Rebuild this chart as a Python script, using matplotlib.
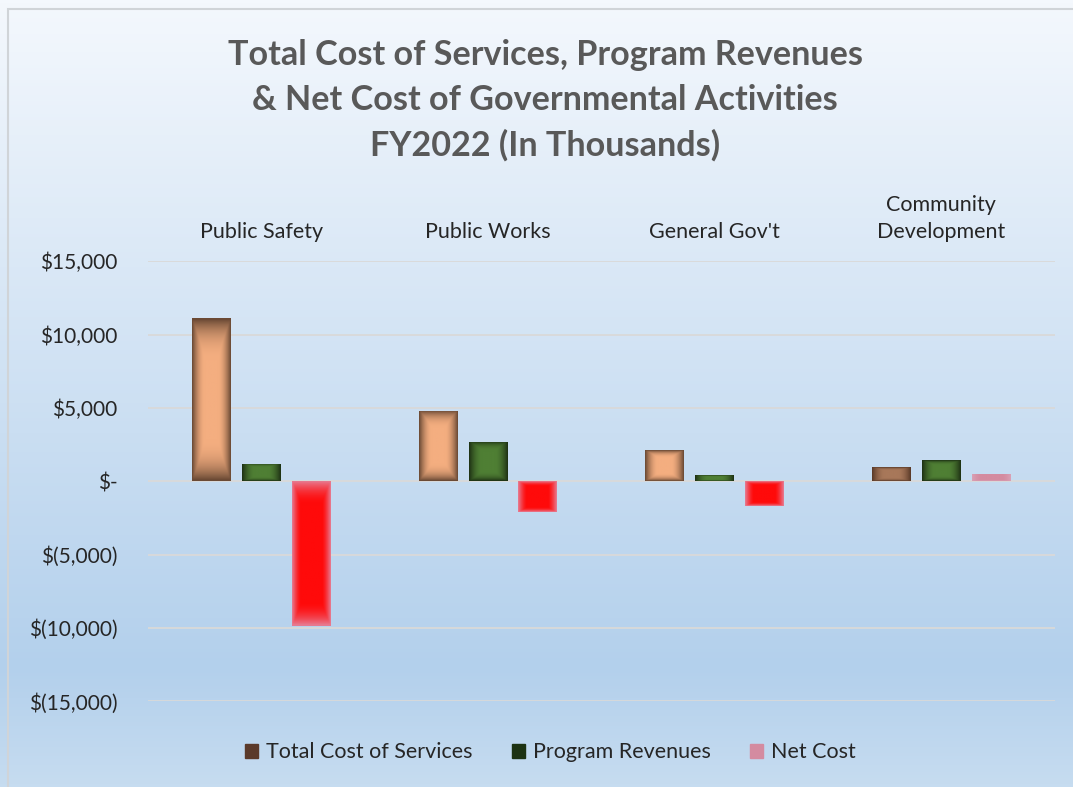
import numpy as np
import matplotlib.pyplot as plt
from matplotlib.colors import LinearSegmentedColormap, to_rgb
from matplotlib.patches import Rectangle

# FY2022 governmental activities, in thousands
categories = ["Public Safety", "Public Works", "General Gov't", "Community\nDevelopment"]
total_cost = [11100, 4800, 2100, 950]
program_rev = [1200, 2700, 400, 1430]
net_cost = [-9900, -2100, -1700, 480]

series_names = ["Total Cost of Services", "Program Revenues", "Net Cost"]
yticks = [-15000, -10000, -5000, 0, 5000, 10000, 15000]

# colours (centre colour, edge colour) per bar
cost_cols = [("#F4AE80", "#6B4A35")] * 3 + [("#A8785A", "#5A3A28")]
rev_cols = [("#4F7F34", "#1E3214")] * 4
net_cols = [("#FF0A0A", "#E77A90")] * 3 + [("#D48BA0", "#D9A0B5")]
legend_cols = ["#5B3A2A", "#1C3212", "#D48BA0"]

plt.rcParams['font.family'] = ['Lato', 'DejaVu Sans']

fig = plt.figure(figsize=(10.73, 7.87), dpi=100)

# background gradient
bg = fig.add_axes([0, 0, 1, 1], zorder=-10)
bg_cmap = LinearSegmentedColormap.from_list(
    "bg", [(0, "#F4F8FD"), (0.85, "#B3D0EC"), (1.0, "#C6DCF0")])
bg.imshow(np.linspace(0, 1, 256).reshape(-1, 1), aspect="auto", cmap=bg_cmap,
          extent=[0, 1, 0, 1], origin="upper")
bg.axis("off")
fig.patches.append(Rectangle((0.007, -0.01), 1.1, 0.999, transform=fig.transFigure,
                             fill=False, edgecolor="#D0D4D8", linewidth=1.5))

ax = fig.add_axes([0.138, 0.109, 0.845, 0.559])
ax.patch.set_alpha(0)

x = np.arange(len(categories))
w = 0.172
off = 0.22


def shade(bar, centre, edge, soft=False):
    # fill a bar with a gradient that darkens (or fades) toward its edges
    x0, y0 = bar.get_x(), bar.get_y()
    bw, bh = bar.get_width(), bar.get_height()
    n = 60
    u = np.linspace(-1, 1, n)
    xx, yy = np.meshgrid(u, u)
    r = np.maximum(np.abs(xx), np.abs(yy) * 0.6 + 0.4 * np.abs(yy) ** 3)
    if soft:
        t = np.clip((r - 0.55) / 0.45, 0, 1) ** 1.5
    else:
        t = np.clip((r - 0.35) / 0.65, 0, 1) ** 1.8
    c0, c1 = np.array(to_rgb(centre)), np.array(to_rgb(edge))
    img = c0[None, None, :] * (1 - t[..., None]) + c1[None, None, :] * t[..., None]
    im = ax.imshow(img, extent=[x0, x0 + bw, y0, y0 + bh], aspect="auto",
                   zorder=3, interpolation="bilinear")
    im.set_clip_path(bar)


groups = [(total_cost, cost_cols, -off, False), (program_rev, rev_cols, 0, False),
          (net_cost, net_cols, off, True)]
for vals, cols, dx, soft in groups:
    bars = ax.bar(x + dx, vals, w, color="none", edgecolor="none", zorder=3)
    for b, (c0, c1) in zip(bars, cols):
        shade(b, c0, c1, soft)

ax.set_xlim(-0.5, len(categories) - 0.5)
ax.set_ylim(-15000, 15000)
ax.set_yticks(yticks)


def money(v):
    if v == 0:
        return "$-"
    if v < 0:
        return "$({:,})".format(-v)
    return "${:,}".format(v)


ax.set_yticklabels([money(v) for v in yticks], fontsize=15, color="#262626")
ax.set_xticks(x)
ax.set_xticklabels(categories, fontsize=15.5, color="#262626", linespacing=1.4)
ax.xaxis.tick_top()
ax.tick_params(axis="x", length=0, pad=14)
ax.tick_params(axis="y", length=0, pad=22)
ax.grid(axis="y", color="#D9D9D9", linewidth=1.3, zorder=0)
ax.set_axisbelow(True)
for s in ax.spines.values():
    s.set_visible(False)

fig.text(0.508, 0.873, "Total Cost of Services, Program Revenues\n& Net Cost of Governmental Activities\nFY2022 (In Thousands)",
         ha="center", va="center", fontsize=24.6, fontweight="bold", color="#595959",
         linespacing=1.5)

handles = [Rectangle((0, 0), 1, 1, color=c) for c in legend_cols]
fig.legend(handles, series_names, loc="center", bbox_to_anchor=(0.513, 0.044), ncol=3,
           frameon=False, fontsize=15.5, handlelength=0.6, handleheight=0.6,
           handletextpad=0.4, columnspacing=1.8, labelcolor="#262626")

fig.savefig("out.png", dpi=100)
